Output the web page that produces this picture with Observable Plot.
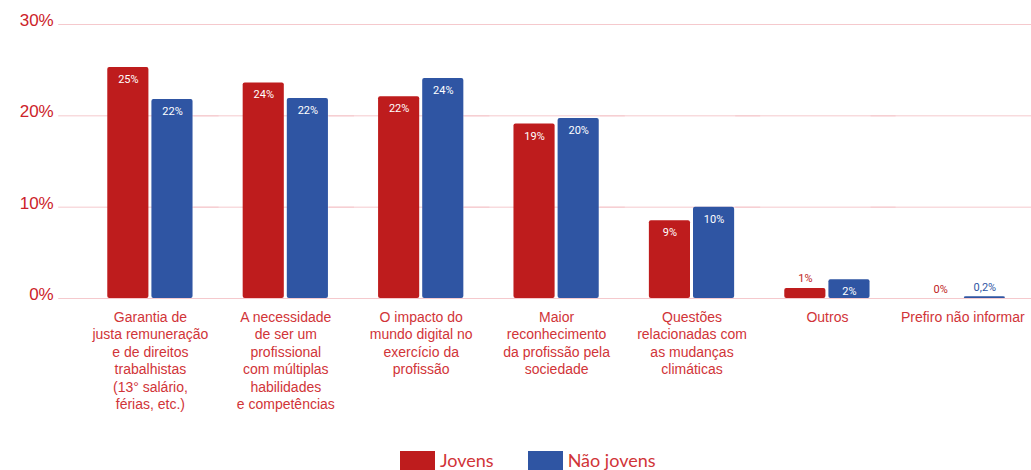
<!DOCTYPE html>
<html>
<head>
<meta charset="utf-8">
<script src="https://cdn.jsdelivr.net/npm/d3@7"></script>
<script src="https://cdn.jsdelivr.net/npm/@observablehq/plot@0.6"></script>
<style>
  html, body { margin: 0; padding: 0; background: #fff; overflow: hidden; }
  #wrap { position: relative; width: 1031px; height: 470px; }
  #legend { position: absolute; top: 451px; left: 400px; display: flex; align-items: center; font-family: Lato, sans-serif; font-size: 18px; line-height: 19px; color: #D13438; white-space: nowrap; }
  #legend .item { display: flex; align-items: center; margin-right: 34px; height: 19px; }
  #legend .sw { width: 35px; height: 19px; margin-right: 5px; }
</style>
</head>
<body>
<div id="wrap"><div id="chart"></div><div id="legend"></div></div>
<script>
const categories = [
  "Garantia de\njusta remuneração\ne de direitos\ntrabalhistas\n(13° salário,\nférias, etc.)",
  "A necessidade\nde ser um\nprofissional\ncom múltiplas\nhabilidades\ne competências",
  "O impacto do\nmundo digital no\nexercício da\nprofissão",
  "Maior\nreconhecimento\nda profissão pela\nsociedade",
  "Questões\nrelacionadas com\nas mudanças\nclimáticas",
  "Outros",
  "Prefiro não informar"
];
const series = ["Jovens", "Não jovens"];
const colors = ["#BE1C1D", "#2F55A3"];
const jovens = [25.3, 23.6, 22.1, 19.1, 8.5, 1.1, 0];
const naoJovens = [21.8, 21.9, 24.1, 19.7, 10.0, 2.05, 0.19];
const jovensLabels = ["25%", "24%", "22%", "19%", "9%", "1%", "0%"];
const naoJovensLabels = ["22%", "22%", "24%", "20%", "10%", "2%", "0,2%"];
const yTicks = [0, 10, 20, 30];

const rows = [];
categories.forEach((c, i) => {
  rows.push({cat: c, series: series[0], value: jovens[i], label: jovensLabels[i]});
  rows.push({cat: c, series: series[1], value: naoJovens[i], label: naoJovensLabels[i]});
});
const inside = rows.filter(d => d.value >= 2);
const outside = rows.filter(d => d.value < 2);

const chart = Plot.plot({
  width: 1031,
  height: 445,
  marginTop: 24,
  marginBottom: 147,
  marginLeft: 58,
  marginRight: 1,
  style: {fontFamily: "'Liberation Sans', Arial, sans-serif", background: "white", overflow: "visible"},
  fx: {domain: categories, paddingInner: 0, paddingOuter: 0.0894, align: 1, round: false, label: null, axis: null},
  x: {domain: series, paddingInner: 0.068, paddingOuter: 0.568, round: false, axis: null},
  y: {domain: [0, 30], axis: null},
  color: {domain: series, range: colors},
  marks: [
    Plot.ruleY(yTicks, {stroke: "#F5C9CD", strokeWidth: 1, insetLeft: -24, insetRight: -1}),
    Plot.barY(rows, {fx: "cat", x: "series", y: "value", fill: "series", rx: 2}),
    Plot.text(inside, {fx: "cat", x: "series", y: "value", text: "label", fill: "white",
      fontFamily: "Roboto, sans-serif", fontSize: 11, lineAnchor: "middle", dy: 12}),
    Plot.text(outside, {fx: "cat", x: "series", y: "value", text: "label", fill: "series",
      fontFamily: "Roboto, sans-serif", fontSize: 11, lineAnchor: "middle", dy: -9.5}),
    Plot.axisY(yTicks, {anchor: "left", tickSize: 0, tickPadding: 29, fontSize: 17, color: "#CC2229",
      tickFormat: d => d + "%", label: null, dy: -4}),
    Plot.axisFx({anchor: "bottom", tickSize: 0, tickPadding: 11, fontSize: 14, lineHeight: 1.25,
      color: "#D13438", label: null})
  ]
});
document.getElementById("chart").appendChild(chart);

const legend = document.getElementById("legend");
series.forEach((s, i) => {
  const it = document.createElement("div");
  it.className = "item";
  const sw = document.createElement("div");
  sw.className = "sw";
  sw.style.background = colors[i];
  const t = document.createElement("span");
  t.textContent = s;
  it.appendChild(sw); it.appendChild(t);
  legend.appendChild(it);
});
</script>
</body>
</html>
